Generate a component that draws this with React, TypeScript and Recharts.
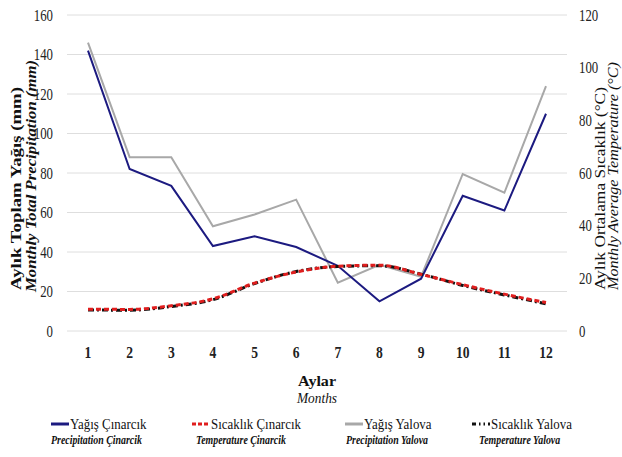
import { ComposedChart, Line, XAxis, YAxis, CartesianGrid, Legend, Label } from 'recharts'

const months = [1, 2, 3, 4, 5, 6, 7, 8, 9, 10, 11, 12]
const precipCinarcik = [142, 82, 73.5, 43, 48, 42.5, 33, 15, 26.5, 68.5, 61, 110]
const precipYalova = [146, 88, 88, 53, 59, 66.5, 24.5, 33.5, 27.5, 79.5, 70, 124]
const tempCinarcik = [8.3, 8.2, 9.6, 12.2, 18.2, 22.4, 24.6, 25, 21.5, 17.6, 14, 10.8]
const tempYalova = [8, 7.9, 9.3, 11.9, 18, 22.6, 24.5, 24.8, 21.6, 17.3, 13.7, 10.3]

const leftTicks = [0, 20, 40, 60, 80, 100, 120, 140, 160]
const rightTicks = [0, 20, 40, 60, 80, 100, 120]

const data = months.map((m, i) => ({
  month: m,
  precipCinarcik: precipCinarcik[i],
  precipYalova: precipYalova[i],
  tempCinarcik: tempCinarcik[i],
  tempYalova: tempYalova[i],
}))

const FONT = '"Liberation Serif", "Times New Roman", serif'

const legendItems = [
  { title: 'Yağış Çınarcık', sub: 'Precipitation Çinarcik', color: '#1c1a80', dash: undefined, left: 51, subLeft: 51 },
  { title: 'Sıcaklık Çınarcık', sub: 'Temperature Çinarcik', color: '#e01e1e', dash: '4 2', left: 192, subLeft: 196 },
  { title: 'Yağış Yalova', sub: 'Precipitation Yalova', color: '#a8a8a8', dash: undefined, left: 345, subLeft: 346 },
  { title: 'Sıcaklık Yalova', sub: 'Temperature Yalova', color: '#111111', dash: '4 3 1.5 3 1.5 3', left: 472, subLeft: 479 },
]

// horizontal text in the source is a bit condensed
const squeeze = (s: number): any => ({ display: 'inline-block', transform: `scaleX(${s})`, transformOrigin: 'left center', whiteSpace: 'nowrap' })

function ChartLegend() {
  return (
    <div style={{ position: 'relative', width: 622, height: 66, fontFamily: FONT, color: '#111' }}>
      {legendItems.map((it) => (
        <div key={it.title}>
          <div style={{ position: 'absolute', left: it.left, top: 23, display: 'flex', alignItems: 'center', height: 20 }}>
            <svg width={18} height={6} style={{ marginRight: 1 }}>
              <line x1={0} y1={3} x2={18} y2={3} stroke={it.color} strokeWidth={3} strokeDasharray={it.dash} />
            </svg>
            <span style={{ ...squeeze(0.86), fontSize: 15 }}>{it.title}</span>
          </div>
          <div style={{ position: 'absolute', left: it.subLeft, top: 41, fontSize: 13, fontStyle: 'italic', fontWeight: 'bold' }}>
            <span style={squeeze(0.76)}>{it.sub}</span>
          </div>
        </div>
      ))}
    </div>
  )
}

const vText = (x: number, y: number, len: number, str: string, bold: boolean, italic: boolean) => (
  <text
    x={x}
    y={y}
    transform={`rotate(-90 ${x} ${y})`}
    textAnchor="start"
    dominantBaseline="central"
    fontSize={14}
    fontWeight={bold ? 'bold' : 'normal'}
    fontStyle={italic ? 'italic' : 'normal'}
    textLength={len}
    lengthAdjust="spacingAndGlyphs"
  >
    {str}
  </text>
)

const LeftTitle = () => (
  <g fontFamily={FONT} fill="#111">
    {vText(16, 290, 203, 'Aylık Toplam Yağış (mm)', true, false)}
    {vText(31, 292, 232, 'Monthly Total Precipitation (mm)', true, true)}
  </g>
)

const RightTitle = () => (
  <g fontFamily={FONT} fill="#111">
    {vText(600, 290, 203, 'Aylık Ortalama Sıcaklık (°C)', false, false)}
    {vText(613, 290, 228, 'Monthly Average Temperature (°C)', false, true)}
  </g>
)

const BottomTitle = (props: any) => {
  const { viewBox } = props
  const cx = viewBox.x + viewBox.width / 2
  return (
    <g fontFamily={FONT} fill="#111">
      <text x={cx} y={381} textAnchor="middle" dominantBaseline="central" fontSize={15} fontWeight="bold" textLength={38} lengthAdjust="spacingAndGlyphs">
        Aylar
      </text>
      <text x={cx} y={398} textAnchor="middle" dominantBaseline="central" fontSize={15} fontStyle="italic" textLength={40} lengthAdjust="spacingAndGlyphs">
        Months
      </text>
    </g>
  )
}

const YTick = (props: any) => {
  const { x, y, payload, textAnchor } = props
  return (
    <g transform={`translate(${x},${y}) scale(0.8,1)`}>
      <text x={0} y={0} dy="0.35em" textAnchor={textAnchor} fontFamily={FONT} fontSize={16} fill="#222">
        {payload.value}
      </text>
    </g>
  )
}

const XTick = (props: any) => {
  const { x, y, payload } = props
  return (
    <g transform={`translate(${x},${y}) scale(0.85,1)`}>
      <text x={0} y={0} dy="0.71em" textAnchor="middle" fontFamily={FONT} fontSize={16} fontWeight="bold" fill="#222">
        {payload.value}
      </text>
    </g>
  )
}

export default function App() {
  return (
    <div style={{ position: 'absolute', left: 0, top: 0, width: 622, height: 457, background: '#fff' }}>
      <ComposedChart width={622} height={457} data={data} margin={{ top: 15, right: 0, bottom: 0, left: 0 }}>
        <CartesianGrid vertical={false} stroke="#dedede" yAxisId="left" />
        <XAxis
          dataKey="month"
          axisLine={false}
          tickLine={false}
          tick={<XTick />}
          tickMargin={10}
          height={60}
          padding={{ left: 21, right: 21 }}
        >
          <Label content={BottomTitle} />
        </XAxis>
        <YAxis
          yAxisId="left"
          domain={[0, 160]}
          ticks={leftTicks}
          axisLine={false}
          tickLine={false}
          tick={<YTick />}
          tickMargin={8}
          width={67}
        >
          <Label content={LeftTitle} />
        </YAxis>
        <YAxis
          yAxisId="right"
          orientation="right"
          domain={[0, 120]}
          ticks={rightTicks}
          axisLine={false}
          tickLine={false}
          tick={<YTick />}
          tickMargin={6}
          width={55}
        >
          <Label content={RightTitle} />
        </YAxis>
        <Legend verticalAlign="bottom" content={<ChartLegend />} />
        <Line yAxisId="left" dataKey="precipYalova" stroke="#a8a8a8" strokeWidth={2} dot={false} isAnimationActive={false} type="linear" />
        <Line yAxisId="left" dataKey="precipCinarcik" stroke="#1c1a80" strokeWidth={2} dot={false} isAnimationActive={false} type="linear" />
        <Line yAxisId="right" dataKey="tempYalova" stroke="#111111" strokeWidth={3} strokeDasharray="6 3 2 3" dot={false} isAnimationActive={false} type="monotone" />
        <Line yAxisId="right" dataKey="tempCinarcik" stroke="#e01e1e" strokeWidth={3} strokeDasharray="5 3" dot={false} isAnimationActive={false} type="monotone" />
      </ComposedChart>
    </div>
  )
}
